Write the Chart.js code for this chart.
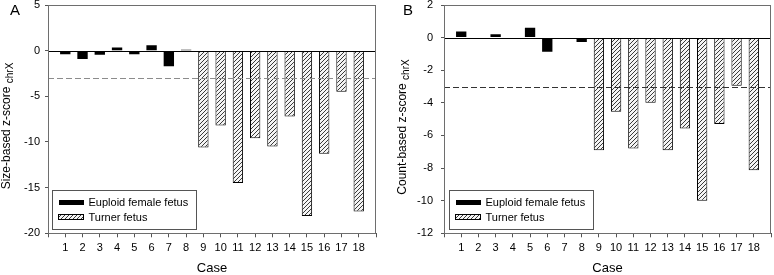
<!DOCTYPE html>
<html><head><meta charset="utf-8">
<script src="https://cdn.jsdelivr.net/npm/chart.js@4/dist/chart.umd.min.js"></script>
<style>
html,body{margin:0;padding:0;background:#fff;}
#wrap{position:relative;width:774px;height:275px;overflow:hidden;}
#pa{position:absolute;left:0;top:0;width:390px;height:275px;}
#pb{position:absolute;left:390px;top:0;width:384px;height:275px;}
</style></head><body>
<div id="wrap">
<div id="pa"><canvas id="ca" width="390" height="275"></canvas></div>
<div id="pb"><canvas id="cb" width="384" height="275"></canvas></div>
</div>
<script>
// ---- data ----
const cases = ['1','2','3','4','5','6','7','8','9','10','11','12','13','14','15','16','17','18'];
const seriesNames = ['Euploid female fetus', 'Turner fetus'];
// cases 1-8: euploid female; cases 9-18: Turner
const sizeEuploid = [-0.4, -0.9, -0.45, 0.35, -0.4, 0.6, -1.7, 0.1];
const sizeTurner  = [-10.6, -8.2, -14.5, -9.6, -10.5, -7.2, -18.1, -11.3, -4.5, -17.6];
const countEuploid = [0.37, -0.05, 0.2, -0.07, 0.6, -0.86, -0.02, -0.27];
const countTurner  = [-6.9, -4.54, -6.8, -4.0, -6.9, -5.57, -10.0, -5.3, -2.95, -8.14];
const sizeTicks  = [-20, -15, -10, -5, 0, 5];
const countTicks = [-12, -10, -8, -6, -4, -2, 0, 2];
const threshold = -3;

const FONT = "'Liberation Sans', Arial, sans-serif";

function makeHatch(){
  const c = document.createElement('canvas');
  c.width = 4; c.height = 4;
  const g = c.getContext('2d');
  g.fillStyle = '#f4f4f4'; g.fillRect(0,0,4,4);
  g.strokeStyle = '#3a3a3a'; g.lineWidth = 1;
  g.beginPath();
  g.moveTo(0,4); g.lineTo(4,0);
  g.moveTo(-1,1); g.lineTo(1,-1);
  g.moveTo(3,5); g.lineTo(5,3);
  g.stroke();
  return g.createPattern(c, 'repeat');
}
const hatch = makeHatch();

function panelPlugin(cfg){
  return {
    id: 'panel' + cfg.letter,
    afterDatasetsDraw(chart){
      const ctx = chart.ctx, a = chart.chartArea, y = chart.scales.y;
      ctx.save();
      // threshold dashed line
      const yt = Math.round(y.getPixelForValue(threshold)) + 0.5;
      ctx.strokeStyle = cfg.dashColor; ctx.lineWidth = 1;
      ctx.setLineDash([6, 3]);
      ctx.beginPath(); ctx.moveTo(a.left, yt); ctx.lineTo(a.right, yt); ctx.stroke();
      ctx.setLineDash([]);
      // zero line
      const y0 = Math.round(y.getPixelForValue(0)) + 0.5;
      ctx.strokeStyle = '#000';
      ctx.beginPath(); ctx.moveTo(a.left, y0); ctx.lineTo(a.right, y0); ctx.stroke();
      // frame
      ctx.strokeStyle = '#6e6e6e';
      ctx.strokeRect(Math.round(a.left) + 0.5, Math.round(a.top) + 0.5,
                     Math.round(a.right) - Math.round(a.left) - 1, Math.round(a.bottom) - Math.round(a.top));
      // legend
      const lx = Math.round(a.left) + cfg.legDx + 0.5, lw = 144, lh = 39;
      const ly = Math.round(a.bottom) - 4 - lh + 0.5;
      ctx.fillStyle = '#fff'; ctx.fillRect(lx, ly, lw, lh);
      ctx.strokeStyle = '#555'; ctx.strokeRect(lx, ly, lw, lh);
      ctx.fillStyle = '#000';
      ctx.fillRect(lx + 6.5, ly + 9.5, 25, 5);
      ctx.fillStyle = hatch;
      ctx.fillRect(lx + 6.5, ly + 24.5, 25, 5);
      ctx.strokeStyle = '#000';
      ctx.strokeRect(lx + 6, ly + 24, 25, 5);
      ctx.fillStyle = '#000';
      ctx.font = '11px ' + FONT;
      ctx.textBaseline = 'middle'; ctx.textAlign = 'left';
      ctx.fillText(seriesNames[0], lx + 36, ly + 12);
      ctx.fillText(seriesNames[1], lx + 36, ly + 27);
      // y title with subscript
      ctx.save();
      ctx.translate(cfg.titleX, cfg.titleY);
      ctx.rotate(-Math.PI / 2);
      ctx.font = '12px ' + FONT;
      const mw = ctx.measureText(cfg.yTitle).width;
      ctx.font = '10px ' + FONT;
      const sw = ctx.measureText(cfg.ySub).width;
      const start = -(mw + sw) / 2;
      ctx.font = '12px ' + FONT;
      ctx.fillText(cfg.yTitle, start, 0);
      ctx.font = '10px ' + FONT;
      ctx.fillText(cfg.ySub, start + mw, 3);
      ctx.restore();
      // panel letter
      ctx.font = '15px ' + FONT;
      ctx.textBaseline = 'top';
      ctx.fillText(cfg.letter, cfg.letterX, 3);
      ctx.restore();
    }
  };
}

function makeChart(id, euploid, turner, ticks, cfg){
  const labels = [''].concat(cases, ['']);
  const eData = [null].concat(euploid, turner.map(() => null), [null]);
  const tData = [null].concat(euploid.map(() => null), turner, [null]);
  return new Chart(document.getElementById(id), {
    type: 'bar',
    data: {
      labels: labels,
      datasets: [
        { label: seriesNames[0], data: eData, backgroundColor: '#000', borderColor: '#000', borderWidth: 0,
          barPercentage: 0.6, categoryPercentage: 1 },
        { label: seriesNames[1], data: tData, backgroundColor: hatch, borderColor: '#000', borderWidth: 1,
          barPercentage: 0.6, categoryPercentage: 1 }
      ]
    },
    options: {
      responsive: false,
      animation: false,
      events: [],
      layout: { padding: { left: 0, right: cfg.padRight, top: cfg.padTop, bottom: 0 } },
      plugins: { legend: { display: false }, tooltip: { enabled: false } },
      scales: {
        x: {
          stacked: true,
          offset: false,
          grid: { offset: false, drawOnChartArea: false, drawTicks: true, tickLength: 4, color: '#555' },
          border: { display: false },
          ticks: { autoSkip: false, maxRotation: 0, minRotation: 0, padding: 4, color: '#000',
                   font: { family: FONT, size: 11 } },
          title: { display: true, text: 'Case', color: '#000', padding: 0,
                   font: { family: FONT, size: 13, lineHeight: 1 } },
          afterFit(s){ s.height = 41.7; s.paddingLeft = 0; s.paddingRight = 0; }
        },
        y: {
          min: ticks[0], max: ticks[ticks.length - 1],
          afterBuildTicks(s){ s.ticks = ticks.map(v => ({ value: v })); },
          grid: { drawOnChartArea: false, drawTicks: true, tickLength: 3, color: '#555' },
          border: { display: false },
          ticks: { padding: cfg.tickPad, color: '#000', font: { family: FONT, size: 11 } },
          afterFit(s){ s.width = cfg.yWidth; s.paddingTop = 0; s.paddingBottom = 0; }
        }
      }
    },
    plugins: [panelPlugin(cfg)]
  });
}

makeChart('ca', sizeEuploid, sizeTurner, sizeTicks, {
  letter: 'A', letterX: 10, padRight: 14, padTop: 5, yWidth: 48, tickPad: 5,
  dashColor: '#8c8c8c', legDx: 4, titleX: 7, titleY: 126,
  yTitle: 'Size-based z-score ', ySub: 'chrX'
});
makeChart('cb', countEuploid, countTurner, countTicks, {
  letter: 'B', letterX: 13, padRight: 3, padTop: 5, yWidth: 54, tickPad: 8,
  dashColor: '#333', legDx: 5, titleX: 13, titleY: 127,
  yTitle: 'Count-based z-score ', ySub: 'chrX'
});
</script>
</body></html>
